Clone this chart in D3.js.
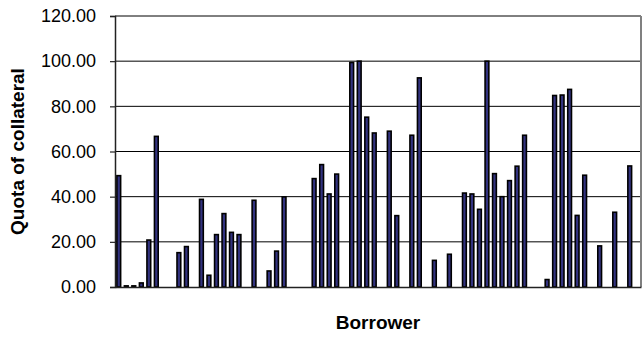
<!DOCTYPE html>
<html>
<head>
<meta charset="utf-8">
<script src="https://cdn.jsdelivr.net/npm/d3@7"></script>
<style>
  html, body { margin: 0; padding: 0; background: #fff; }
  svg { display: block; font-family: "Liberation Sans", Arial, sans-serif; }
</style>
</head>
<body>
<svg id="chart" width="643" height="338"></svg>
<script>
// Borrower numbers (1..70) and their collateral quota; null = no value
const borrowers = d3.range(1, 71);
const quota = [
  49.3, 0.5, 0.5, 1.8, 20.8, 66.7, null, null, 15.2, 17.9,
  null, 38.8, 5.2, 23.2, 32.5, 24.2, 23.2, null, 38.4, null,
  7.1, 15.9, 39.9, null, null, null, 48.0, 54.2, 41.2, 50.0,
  null, 99.4, 100.0, 75.2, 68.2, null, 69.0, 31.6, null, 67.2,
  92.6, null, 11.8, null, 14.5, null, 41.6, 41.2, 34.4, 100.0,
  50.2, 40.0, 47.1, 53.5, 67.2, null, null, 3.3, 84.8, 85.0,
  87.5, 31.7, 49.5, null, 18.2, null, 33.1, null, 53.6, null
];
const yTicks = [0, 20, 40, 60, 80, 100, 120];
const xTitle = "Borrower";
const yTitle = "Quota of collateral";

const svg = d3.select("#chart");
const plot = { left: 115, right: 641, top: 16, bottom: 287 };

const x = d3.scaleBand()
  .domain(borrowers)
  .range([plot.left, plot.right])
  .paddingInner(0.5)
  .paddingOuter(0.25);

const y = d3.scaleLinear().domain([0, 120]).range([plot.bottom, plot.top]);

// horizontal gridlines
svg.append("g")
  .selectAll("line")
  .data(yTicks.filter(t => t > 0))
  .join("line")
  .attr("x1", plot.left).attr("x2", plot.right)
  .attr("y1", d => y(d)).attr("y2", d => y(d))
  .attr("stroke", "#000").attr("stroke-width", 1);

// right border of the plot area
svg.append("line")
  .attr("x1", plot.right).attr("x2", plot.right)
  .attr("y1", plot.top).attr("y2", plot.bottom)
  .attr("stroke", "#808080").attr("stroke-width", 2);

// bars
svg.append("g")
  .selectAll("rect")
  .data(borrowers.map((b, i) => ({ b, v: quota[i] })).filter(d => d.v != null))
  .join("rect")
  .attr("x", d => x(d.b))
  .attr("width", x.bandwidth())
  .attr("y", d => y(d.v))
  .attr("height", d => y(0) - y(d.v))
  .attr("fill", "#333380")
  .attr("stroke", "#000")
  .attr("stroke-width", 1.6);

// y axis
const yAxis = svg.append("g")
  .attr("transform", `translate(${plot.left},0)`)
  .call(d3.axisLeft(y).tickValues(yTicks).tickFormat(d3.format(".2f")).tickSize(5).tickPadding(14));
yAxis.select(".domain").attr("stroke", "#222").attr("stroke-width", 1.5);
yAxis.selectAll(".tick line").attr("stroke", "#222").attr("stroke-width", 1.2);
yAxis.selectAll(".tick text")
  .attr("font-size", 18)
  .attr("font-family", "Liberation Sans, Arial, sans-serif")
  .attr("fill", "#000");

// x axis baseline
svg.append("g")
  .attr("transform", `translate(0,${plot.bottom})`)
  .call(d3.axisBottom(x).tickValues([]).tickSizeOuter(0))
  .select(".domain").attr("stroke", "#222").attr("stroke-width", 1.5);

// axis titles
svg.append("text")
  .attr("x", (plot.left + plot.right) / 2)
  .attr("y", 329)
  .attr("text-anchor", "middle")
  .attr("font-size", 19)
  .attr("font-weight", "bold")
  .text(xTitle);

svg.append("text")
  .attr("transform", `translate(24,${(plot.top + plot.bottom) / 2}) rotate(-90)`)
  .attr("text-anchor", "middle")
  .attr("font-size", 19)
  .attr("font-weight", "bold")
  .text(yTitle);
</script>
</body>
</html>
